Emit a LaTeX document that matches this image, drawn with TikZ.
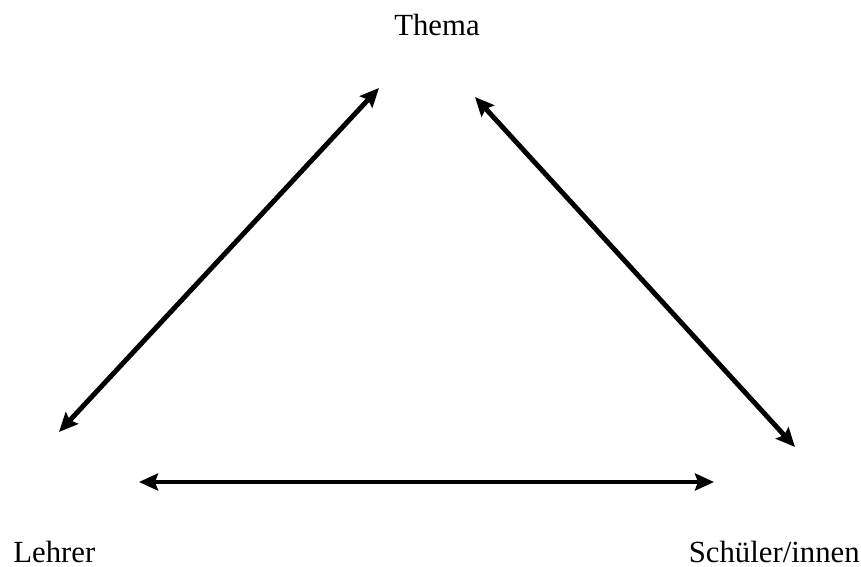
\documentclass[tikz,border=0pt]{standalone}
\usepackage{fontspec}
\setmainfont{Liberation Serif}
\usetikzlibrary{arrows.meta}
\tikzset{
  corner/.style={font=\fontsize{17.5}{21}\selectfont, inner sep=0pt},
  relation/.style={line width=2.8pt, draw=black,
    {Stealth[length=3.8mm, width=3.4mm, inset=0.6mm]}-{Stealth[length=3.8mm, width=3.4mm, inset=0.6mm]}},
}
\begin{document}
\begin{tikzpicture}
\useasboundingbox (0,0) rectangle (17.22,11.34);
\node[corner, anchor=base] (thema) at (8.74,10.62) {Thema};
\node[corner, anchor=base west] (lehrer) at (0.26,0.08) {Lehrer};
\node[corner, anchor=base east] (schueler) at (17.20,0.08) {Schüler/innen};
\coordinate (tl) at (7.58,9.58);
\coordinate (tr) at (9.50,9.40);
\coordinate (lt) at (1.18,2.70);
\coordinate (lr) at (2.78,1.70);
\coordinate (st) at (15.90,2.40);
\coordinate (sl) at (14.28,1.70);
\draw[relation] (lt) -- (tl);
\draw[relation] (tr) -- (st);
\draw[relation] (lr) -- (sl);
\end{tikzpicture}
\end{document}
